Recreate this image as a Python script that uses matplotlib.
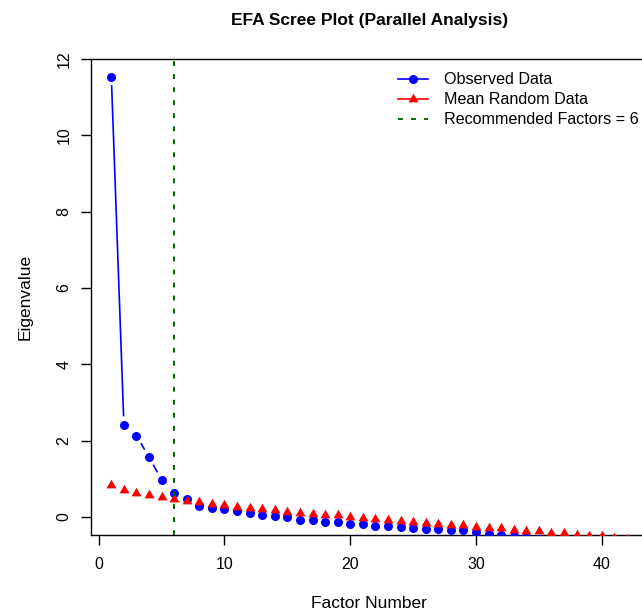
import numpy as np
import matplotlib
matplotlib.use('Agg')
import matplotlib.pyplot as plt
from matplotlib.lines import Line2D

# eigenvalues
factors = np.arange(1, 43)
observed = [11.54, 2.41, 2.13, 1.57, 0.97, 0.62, 0.46, 0.29, 0.24, 0.20,
            0.15, 0.11, 0.05, 0.03, -0.01, -0.08, -0.09, -0.12, -0.13, -0.18,
            -0.19, -0.23, -0.24, -0.26, -0.28, -0.31, -0.32, -0.33, -0.35, -0.40,
            -0.44, -0.47, -0.50, -0.53, -0.57, -0.60, -0.63, -0.66, -0.70, -0.73,
            -0.77, -0.81]
random_mean = [0.84, 0.71, 0.64, 0.57, 0.52, 0.48, 0.43, 0.39, 0.35, 0.31,
               0.27, 0.23, 0.20, 0.17, 0.14, 0.10, 0.08, 0.06, 0.04, 0.01,
               -0.02, -0.06, -0.08, -0.10, -0.12, -0.15, -0.18, -0.20, -0.22, -0.25,
               -0.29, -0.30, -0.33, -0.36, -0.38, -0.41, -0.43, -0.46, -0.49, -0.51,
               -0.54, -0.57]
n_factors = 6

plt.rcParams['font.family'] = ['Liberation Sans', 'DejaVu Sans']

fig = plt.figure(figsize=(6.42, 6.14), dpi=100)
ax = fig.add_axes([90.7/642, 79.4/614, 556.8/642, 475.7/614])

# R style 4% padding, ylim = c(0, max)
ymax = max(observed)
ax.set_xlim(1 - 0.04*41, 42 + 0.04*41)
ax.set_ylim(-0.04*ymax, ymax*1.04)

tri = [(0, 1), (-0.866, -0.5), (0.866, -0.5), (0, 1)]


def gapped(x, y, color, gap=9.5, lw=1.2):
    # type="b": segments stop short of the points
    pts = ax.transData.transform(np.column_stack([x, y]))
    inv = ax.transData.inverted()
    for (x0, y0), (x1, y1) in zip(pts[:-1], pts[1:]):
        d = np.hypot(x1 - x0, y1 - y0)
        if d <= 2*gap:
            continue
        ux, uy = (x1 - x0)/d, (y1 - y0)/d
        a = inv.transform([(x0 + ux*gap, y0 + uy*gap), (x1 - ux*gap, y1 - uy*gap)])
        ax.plot(a[:, 0], a[:, 1], color=color, lw=lw, zorder=2)


gapped(factors, observed, 'blue')
ax.plot(factors, observed, ls='none', marker='o', ms=6.5, mew=0, color='blue', zorder=3)
gapped(factors, random_mean, 'red')
ax.plot(factors, random_mean, ls='none', marker=tri, ms=8.3, mew=0, color='red', zorder=4)
ax.axvline(n_factors, color='#006400', ls=(0, (2.5, 4.2)), lw=1.4, zorder=5)

ax.set_xticks([0, 10, 20, 30, 40])
ax.set_yticks([0, 2, 4, 6, 8, 10, 12])
ax.tick_params(length=7, width=1, pad=7, labelsize=11.5)
ax.tick_params(axis='x', pad=9)
ax.tick_params(axis='y', labelrotation=90)
plt.setp(ax.get_yticklabels(), va='center')
for s in ax.spines.values():
    s.set_linewidth(1)

fig.text(369.1/642, 1 - 25/614, 'EFA Scree Plot (Parallel Analysis)',
         ha='center', va='baseline', fontsize=12.5, fontweight='bold')
fig.text(369.1/642, 5.7/614, 'Factor Number', ha='center', va='baseline', fontsize=12.5)
fig.text(25/642, 1 - 296.5/614, 'Eigenvalue', ha='center', va='center',
         rotation=90, fontsize=12.5)

handles = [
    Line2D([], [], color='blue', lw=1.2, marker='o', ms=6.5, mew=0),
    Line2D([], [], color='red', lw=1.2, marker=tri, ms=8.3, mew=0),
    Line2D([], [], color='#006400', lw=1.4, ls=(0, (2.5, 4.2))),
]
labels = ['Observed Data', 'Mean Random Data', 'Recommended Factors = %d' % n_factors]
fig.legend(handles, labels, loc='upper left', bbox_to_anchor=(398/642, 1 - 72.5/614),
           frameon=False, fontsize=11.6, borderpad=0, borderaxespad=0,
           handlelength=1.875, handletextpad=0.96, labelspacing=0.3)

fig.savefig('out.png', dpi=100)
